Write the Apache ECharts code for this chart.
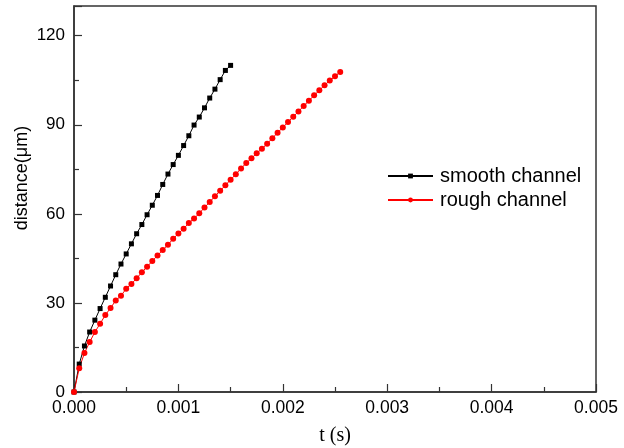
<!DOCTYPE html>
<html>
<head>
<meta charset="utf-8">
<script src="https://cdn.jsdelivr.net/npm/echarts@6/dist/echarts.min.js"></script>
<style>html,body{margin:0;padding:0;background:#fff;}#c{width:624px;height:448px;}</style>
</head>
<body>
<div id="c"></div>
<script>
var seriesNames = ['smooth channel', 'rough channel'];
var timesSmooth = [0, 0.00005, 0.0001, 0.00015, 0.0002, 0.00025, 0.0003, 0.00035, 0.0004, 0.00045,
  0.0005, 0.00055, 0.0006, 0.00065, 0.0007, 0.00075, 0.0008, 0.00085, 0.0009, 0.00095,
  0.001, 0.00105, 0.0011, 0.00115, 0.0012, 0.00125, 0.0013, 0.00135, 0.0014, 0.00145, 0.0015];
var distSmooth = [0, 9.4, 15.5, 20.2, 24.2, 28.1, 31.9, 35.7, 39.5, 43.1,
  46.5, 49.9, 53.3, 56.4, 59.7, 62.9, 66.2, 69.9, 73.4, 76.6,
  79.7, 83.0, 86.3, 89.9, 92.6, 95.7, 99.0, 102.0, 105.2, 108.3, 110.0];
var timesRough = [0, 0.00005, 0.0001, 0.00015, 0.0002, 0.00025, 0.0003, 0.00035, 0.0004, 0.00045,
  0.0005, 0.00055, 0.0006, 0.00065, 0.0007, 0.00075, 0.0008, 0.00085, 0.0009, 0.00095,
  0.001, 0.00105, 0.0011, 0.00115, 0.0012, 0.00125, 0.0013, 0.00135, 0.0014, 0.00145,
  0.0015, 0.00155, 0.0016, 0.00165, 0.0017, 0.00175, 0.0018, 0.00185, 0.0019, 0.00195,
  0.002, 0.00205, 0.0021, 0.00215, 0.0022, 0.00225, 0.0023, 0.00235, 0.0024, 0.00245,
  0.0025, 0.00255];
var distRough = [0, 8.0, 13.1, 16.8, 20.2, 23.0, 25.9, 28.3, 30.8, 32.4,
  34.8, 36.4, 38.3, 40.3, 42.2, 44.1, 46.0, 47.8, 49.6, 51.6,
  53.4, 55.0, 56.9, 58.4, 60.2, 62.1, 64.0, 65.9, 67.8, 69.6,
  71.5, 73.3, 75.3, 77.1, 78.7, 80.4, 81.9, 83.6, 85.5, 87.3,
  89.1, 90.9, 92.7, 94.5, 96.3, 98.1, 99.9, 101.6, 103.3, 104.9,
  106.3, 107.8];
var xLabel = 't (s)';
var yLabel = 'distance(\u03bcm)';

function pairs(xs, ys) { return xs.map(function (x, i) { return [x, ys[i]]; }); }

var chart = echarts.init(document.getElementById('c'), null, {renderer: 'canvas'});
var axisColor = '#333';
chart.setOption({
  animation: false,
  backgroundColor: '#fff',
  grid: {left: 74, right: 28, top: 6, bottom: 56, outerBoundsMode: 'none', containLabel: false,
    show: true, borderColor: axisColor, borderWidth: 1.5, backgroundColor: 'transparent'},
  legend: {
    orient: 'vertical', left: 387, top: 166, padding: 0, itemWidth: 45, itemHeight: 6, itemGap: 4,
    textStyle: {fontFamily: 'Liberation Sans', fontSize: 20, color: '#000', padding: [0, 0, 0, 2]},
    data: seriesNames
  },
  xAxis: {
    type: 'value', min: 0, max: 0.005, interval: 0.001,
    name: xLabel, nameLocation: 'middle', nameGap: 34,
    nameTextStyle: {fontFamily: 'Liberation Serif', fontSize: 20, color: '#000'},
    axisLine: {show: true, lineStyle: {color: axisColor, width: 1.5}},
    axisTick: {show: true, inside: true, length: 8, lineStyle: {color: axisColor, width: 1.2}},
    minorTick: {show: true, splitNumber: 2, length: 5, lineStyle: {color: axisColor, width: 1.2}},
    axisLabel: {fontFamily: 'Liberation Sans', fontSize: 17.5, color: '#000', margin: 7,
      formatter: function (v) { return v.toFixed(3); }},
    splitLine: {show: false}
  },
  yAxis: {
    type: 'value', min: 0, max: 130, interval: 30,
    axisLine: {show: true, lineStyle: {color: axisColor, width: 1.5}},
    axisTick: {show: true, inside: true, length: 8, lineStyle: {color: axisColor, width: 1.2}},
    minorTick: {show: true, splitNumber: 2, length: 5, lineStyle: {color: axisColor, width: 1.2}},
    axisLabel: {fontFamily: 'Liberation Sans', fontSize: 17, color: '#000', margin: 9, showMaxLabel: false,
      formatter: function (v) { return v > 125 ? '' : String(v); }},
    splitLine: {show: false}
  },
  graphic: [{
    type: 'text', x: 22, y: 178, rotation: Math.PI / 2,
    style: {text: yLabel, fontFamily: 'Liberation Sans', fontSize: 18, fill: '#000', align: 'center', verticalAlign: 'middle'}
  }],
  series: [
    {name: seriesNames[0], type: 'line', data: pairs(timesSmooth, distSmooth),
      symbol: 'rect', symbolSize: 5, showAllSymbol: true,
      lineStyle: {color: '#000', width: 1}, itemStyle: {color: '#000'}},
    {name: seriesNames[1], type: 'line', data: pairs(timesRough, distRough),
      symbol: 'circle', symbolSize: 6, showAllSymbol: true,
      lineStyle: {color: '#ff0000', width: 1}, itemStyle: {color: '#ff0000'}}
  ]
});
</script>
</body>
</html>
